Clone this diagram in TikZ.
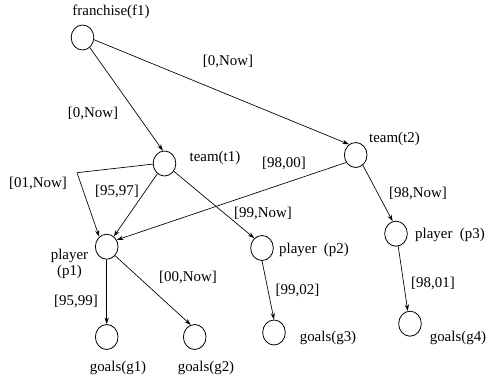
\documentclass[tikz,border=0pt]{standalone}
\usepackage{fontspec}
\setmainfont{Liberation Serif}
\usetikzlibrary{shapes.geometric,arrows.meta}
\begin{document}
\begin{tikzpicture}[x=0.75pt,y=-0.75pt,
  vert/.style={draw,ellipse,inner sep=0pt,minimum width=17pt,minimum height=18.75pt,line width=0.6pt},
  lbl/.style={inner sep=0pt,font=\fontsize{11.2}{13}\selectfont},
  arr/.style={-{Stealth[length=5pt,width=3.2pt]},line width=0.5pt},
  ln/.style={line width=0.5pt}]
\useasboundingbox (0,0) rectangle (486,379);
% vertices
\node[vert] (f1) at (82.5,37.5) {};
\node[vert] (t1) at (164.5,163.5) {};
\node[vert] (t2) at (355.7,155) {};
\node[vert] (p1) at (106.7,246.7) {};
\node[vert] (p2) at (262,248) {};
\node[vert] (p3) at (396,233.7) {};
\node[vert] (g1) at (106.7,337) {};
\node[vert] (g2) at (194.7,337) {};
\node[vert] (g3) at (274,332.5) {};
\node[vert] (g4) at (410,323.7) {};
% vertex labels
\node[lbl] (lf1) at (111,12) {franchise(f1)};
\node[lbl] (lt1) at (215,158) {team(t1)};
\node[lbl] (lt2) at (394.5,139) {team(t2)};
\node[lbl,align=center] (lp1) at (69.5,264) {player\\[-1pt](p1)};
\node[lbl] (lp2) at (314,250) {player\ \ (p2)};
\node[lbl] (lp3) at (450,235) {player\ \ (p3)};
\node[lbl] (lg1) at (118,368) {goals(g1)};
\node[lbl] (lg2) at (206,368) {goals(g2)};
\node[lbl] (lg3) at (328,338) {goals(g3)};
\node[lbl] (lg4) at (458,338) {goals(g4)};
% edge labels
\node[lbl] (e1) at (93,113) {[0,Now]};
\node[lbl] (e2) at (228,61) {[0,Now]};
\node[lbl] (e3) at (38,183) {[01,Now]};
\node[lbl] (e4) at (117,191) {[95,97]};
\node[lbl] (e5) at (284,163) {[98,00]};
\node[lbl] (e6) at (263,213) {[99,Now]};
\node[lbl] (e7) at (418,193) {[98,Now]};
\node[lbl] (e8) at (188,277) {[00,Now]};
\node[lbl] (e9) at (76,301) {[95,99]};
\node[lbl] (e10) at (297.5,290) {[99,02]};
\node[lbl] (e11) at (433,283) {[98,01]};
% edges
\coordinate (bend) at (77,172.7);
\draw[arr] (f1.-54) -- (t1.97);
\draw[arr] (f1.-11) -- (t2.122);
\draw[arr] (t1) -- (p1);
\draw[arr] (t1.183) -- (bend) -- (p1.127);
\draw[arr] (t1) -- (p2.128);
\draw[arr] (t2.218) -- (p1.34);
\draw[arr] (t2.-55) -- (p3.105);
\draw[arr] (p1.south) -- (g1.north);
\draw[arr] (p1.-47) -- (g2.108);
\draw[arr] (p2.south) -- (g3.north);
\draw[arr] (p3.-80) -- (g4.100);
\end{tikzpicture}
\end{document}
